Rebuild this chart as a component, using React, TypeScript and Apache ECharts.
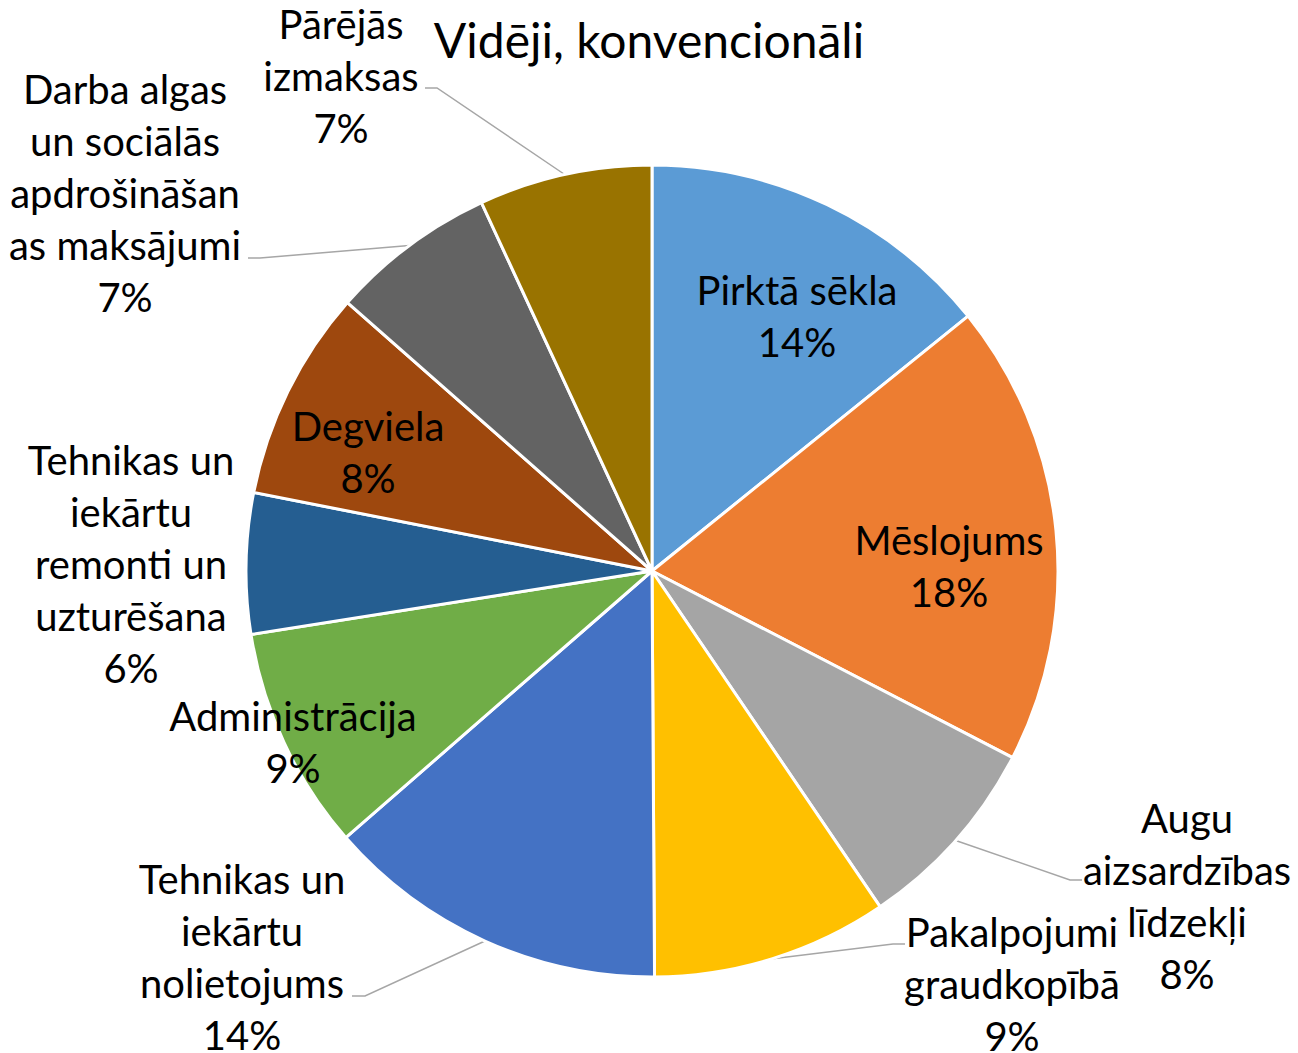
import React, { useEffect, useRef } from 'react';
import * as echarts from 'echarts';

const TITLE = 'Vidēji, konvencionāli';

const categories = [
  'Pirktā sēkla',
  'Mēslojums',
  'Augu aizsardzības līdzekļi',
  'Pakalpojumi graudkopībā',
  'Tehnikas un iekārtu nolietojums',
  'Administrācija',
  'Tehnikas un iekārtu remonti un uzturēšana',
  'Degviela',
  'Darba algas un sociālās apdrošināšanas maksājumi',
  'Pārējās izmaksas',
];

const wrappedLabels = [
  'Pirktā sēkla',
  'Mēslojums',
  'Augu\naizsardzības\nlīdzekļi',
  'Pakalpojumi\ngraudkopībā',
  'Tehnikas un\niekārtu\nnolietojums',
  'Administrācija',
  'Tehnikas un\niekārtu\nremonti un\nuzturēšana',
  'Degviela',
  'Darba algas\nun sociālās\napdrošināšan\nas maksājumi',
  'Pārējās\nizmaksas',
];

const shares = [14.2, 18.4, 7.9, 9.4, 13.7, 8.9, 5.6, 8.4, 6.6, 6.9];

const colors = [
  '#5B9BD5', '#ED7D31', '#A5A5A5', '#FFC000', '#4472C4',
  '#70AD47', '#255E91', '#9E480E', '#636363', '#997300',
];

// layout (label block centres, leader-line ends) — not data
const labelCentres: number[][] = [
  [797, 316], [949, 566], [1187, 896], [1012, 984], [242, 957],
  [293, 742], [131, 564], [368, 452], [125, 193], [341, 76],
];
const leaderEnds: (number[][] | null)[] = [
  null, null,
  [[1070, 880], [1082, 880]],
  [[893, 944], [905, 944]],
  [[365, 996], [352, 996]],
  null, null, null,
  [[260, 258], [248, 258]],
  [[437, 88], [425, 88]],
];

const CX = 652;
const CY = 571;
const R = 406;

export default function App() {
  const ref = useRef<HTMLDivElement>(null);
  useEffect(() => {
    document.body.style.margin = '0';
    if (!ref.current) return;
    const chart = echarts.init(ref.current, null, { renderer: 'svg' });
    const total = shares.reduce((a, b) => a + b, 0);
    const edgePoint = (i: number) => {
      let cum = 0;
      for (let k = 0; k < i; k++) cum += shares[k];
      const a = ((cum + shares[i] / 2) / total) * Math.PI * 2;
      return [CX + R * Math.sin(a), CY - R * Math.cos(a)];
    };
    const font = 'Lato';
    chart.setOption({
      animation: false,
      backgroundColor: '#fff',
      title: {
        text: TITLE,
        left: 'center',
        top: 15,
        padding: 0,
        textStyle: { fontFamily: font, fontSize: 48, fontWeight: 'normal', color: '#000', lineHeight: 48 },
      },
      series: [
        {
          type: 'pie',
          center: [CX, CY],
          radius: R,
          startAngle: 90,
          clockwise: true,
          avoidLabelOverlap: false,
          itemStyle: { borderColor: '#fff', borderWidth: 3 },
          label: {
            show: true,
            position: 'outside',
            fontFamily: font,
            fontSize: 40,
            lineHeight: 52,
            color: '#000',
            align: 'center',
            formatter: (p: any) => `${wrappedLabels[p.dataIndex]}\n${Math.round(p.percent)}%`,
          },
          labelLine: { show: true, lineStyle: { color: '#A6A6A6', width: 1.5 } },
          labelLayout: (p: any) => {
            const i = p.dataIndex;
            const c = labelCentres[i];
            const res: any = { x: c[0], y: c[1], align: 'center', verticalAlign: 'middle' };
            const ends = leaderEnds[i];
            if (ends) {
              const start = p.labelLinePoints && p.labelLinePoints[0] ? p.labelLinePoints[0] : edgePoint(i);
              res.labelLinePoints = [start, ends[0], ends[1]];
            }
            return res;
          },
          data: categories.map((name, i) => ({
            name,
            value: shares[i],
            itemStyle: { color: colors[i] },
            labelLine: { show: !!leaderEnds[i] },
          })),
        },
      ],
    });
    return () => chart.dispose();
  }, []);
  return <div ref={ref} style={{ width: 1298, height: 1053 }} />;
}
